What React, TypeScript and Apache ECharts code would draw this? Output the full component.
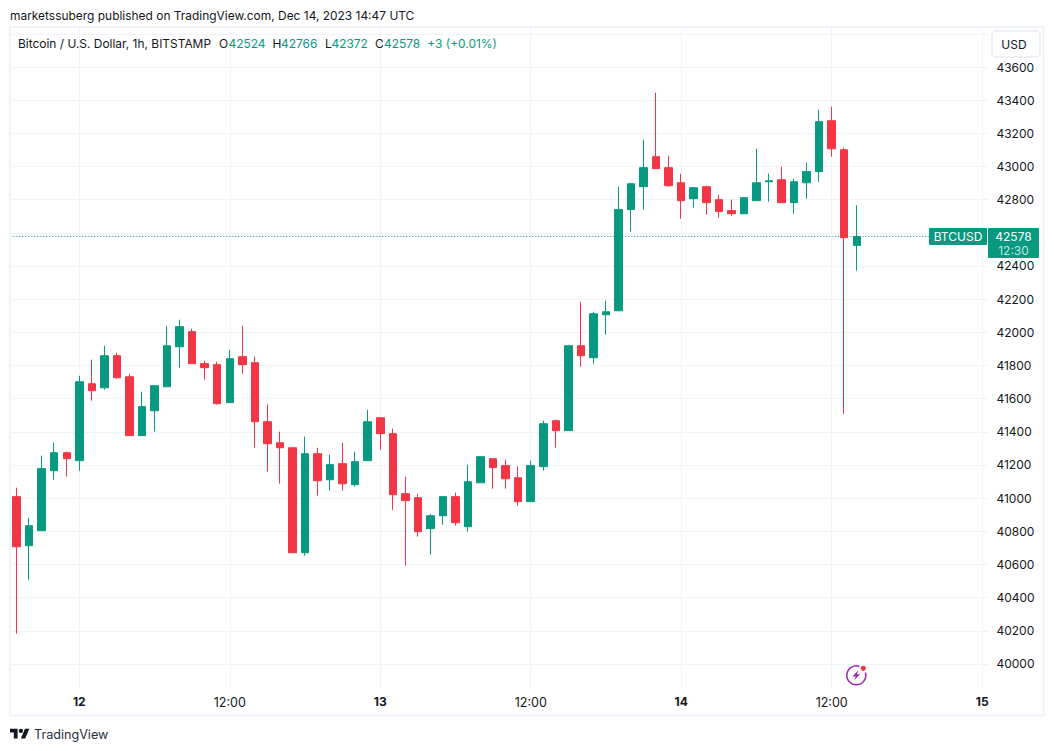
import React, { useEffect, useRef } from "react";
import * as echarts from "echarts";

// [open, close, low, high] per hourly candle, Dec 11 19:00 to Dec 14 14:00
const candles: number[][] = [
  [41009, 40707, 40183, 41063],
  [40713, 40834, 40508, 40882],
  [40804, 41178, 40804, 41256],
  [41166, 41274, 41111, 41334],
  [41274, 41238, 41130, 41280],
  [41226, 41702, 41166, 41738],
  [41690, 41648, 41588, 41835],
  [41666, 41859, 41654, 41919],
  [41859, 41726, 41720, 41877],
  [41732, 41377, 41377, 41751],
  [41377, 41552, 41377, 41642],
  [41527, 41678, 41401, 41678],
  [41672, 41919, 41672, 42040],
  [41913, 42034, 41787, 42076],
  [42004, 41811, 41811, 42022],
  [41811, 41787, 41714, 41829],
  [41805, 41570, 41564, 41823],
  [41576, 41841, 41576, 41895],
  [41853, 41805, 41751, 42040],
  [41817, 41461, 41304, 41853],
  [41461, 41328, 41160, 41564],
  [41334, 41304, 41087, 41401],
  [41304, 40671, 40671, 41304],
  [40671, 41268, 40653, 41371],
  [41268, 41105, 41015, 41304],
  [41111, 41202, 41045, 41262],
  [41208, 41087, 41045, 41334],
  [41081, 41220, 41069, 41280],
  [41226, 41461, 41226, 41533],
  [41485, 41389, 41292, 41485],
  [41389, 41021, 40930, 41419],
  [41027, 40985, 40593, 41129],
  [41003, 40798, 40768, 41027],
  [40816, 40894, 40659, 40906],
  [40894, 41009, 40840, 41009],
  [41009, 40852, 40834, 41033],
  [40828, 41099, 40798, 41202],
  [41093, 41250, 41093, 41250],
  [41238, 41184, 41057, 41238],
  [41196, 41117, 41057, 41232],
  [41123, 40979, 40955, 41190],
  [40979, 41196, 40979, 41226],
  [41190, 41449, 41166, 41467],
  [41467, 41407, 41304, 41473],
  [41407, 41919, 41407, 41925],
  [41919, 41859, 41793, 42185],
  [41847, 42112, 41811, 42124],
  [42106, 42124, 41986, 42191],
  [42130, 42740, 42130, 42878],
  [42740, 42896, 42607, 42902],
  [42878, 42993, 42740, 43162],
  [43059, 42987, 42987, 43445],
  [42993, 42884, 42878, 43065],
  [42902, 42794, 42685, 42957],
  [42806, 42872, 42752, 42872],
  [42878, 42782, 42709, 42884],
  [42800, 42728, 42691, 42830],
  [42734, 42715, 42703, 42800],
  [42715, 42812, 42715, 42812],
  [42794, 42902, 42794, 43107],
  [42908, 42914, 42788, 42957],
  [42920, 42782, 42782, 42999],
  [42782, 42908, 42715, 42926],
  [42902, 42969, 42806, 43023],
  [42969, 43270, 42908, 43343],
  [43276, 43107, 43059, 43361],
  [43101, 42571, 41509, 43113],
  [42524, 42578, 42372, 42766],
];

const blankBars = 10;
const categories: string[] = Array.from({ length: candles.length + blankBars }, (_, i) => String(i));
const timeLabels: Record<number, string> = {
  5: "12", 17: "12:00", 29: "13", 41: "12:00", 53: "14", 65: "12:00", 77: "15",
};
const gridPrices = [
  40000, 40200, 40400, 40600, 40800, 41000, 41200, 41400, 41600, 41800, 42000,
  42200, 42400, 42600, 42800, 43000, 43200, 43400, 43600, 43800,
];
const priceLabels = gridPrices.filter((p) => p !== 42600 && p !== 43800);
const lastPrice = 42578;
const publishedLine = "marketssuberg published on TradingView.com, Dec 14, 2023 14:47 UTC";
const symbolLine = "Bitcoin / U.S. Dollar, 1h, BITSTAMP";
const ohlc = [
  { key: "O", keyX: 219, val: "42524", valX: 228.5 },
  { key: "H", keyX: 272.5, val: "42766", valX: 281 },
  { key: "L", keyX: 325, val: "42372", valX: 331.5 },
  { key: "C", keyX: 375, val: "42578", valX: 384 },
];
const changeText = "+3 (+0.01%)";

const UP = "#089981";
const DOWN = "#F23645";
const GRIDC = "#f0f3fa";
const INK = "#131722";
const FONT = "Inter, sans-serif";

echarts.graphic.registerShape(
  "tvlogo",
  echarts.graphic.extendPath("M14 22H7V11H0V4h14v18zM28 22h-8l7.5-18h8L28 22zM24 8a4 4 0 1 1-8 0a4 4 0 1 1 8 0z", {}) as any
);

const txt = (x: number, y: number, text: string, fill = INK, size = 11.95, extra: any = {}) => ({
  type: "text",
  x,
  y,
  z: 20,
  silent: true,
  style: { text, fill, font: `${extra.weight || "normal"} ${size}px ${FONT}`, textVerticalAlign: "middle", textAlign: extra.align || "left" },
});

export default function App() {
  const ref = useRef<HTMLDivElement>(null);
  useEffect(() => {
    document.body.style.margin = "0";
    const chart = echarts.init(ref.current!, undefined, { renderer: "svg", width: 1054, height: 751 });
    chart.setOption({
      animation: false,
      backgroundColor: "#ffffff",
      grid: { left: 10.33, top: 27.7, width: 978.1, height: 660, containLabel: false },
      xAxis: {
        type: "category",
        data: categories,
        boundaryGap: true,
        axisLine: { show: false },
        axisTick: { show: false, alignWithLabel: true },
        splitLine: {
          show: true,
          alignWithLabel: true,
          interval: (i: number) => timeLabels[i] !== undefined,
          lineStyle: { color: GRIDC, width: 1 },
        },
        axisLabel: {
          interval: (i: number) => timeLabels[i] !== undefined,
          margin: 8,
          hideOverlap: false,
          formatter: (_: string, i: number) => {
            const s = timeLabels[i] || "";
            return s.includes(":") ? `{t|${s}}` : `{d|${s}}`;
          },
          rich: {
            t: { fontFamily: FONT, fontSize: 12.5, color: INK },
            d: { fontFamily: FONT, fontSize: 12, fontWeight: "bold", color: INK },
          },
        },
      },
      yAxis: {
        type: "value",
        position: "right",
        scale: true,
        min: 39857,
        max: 43837,
        axisLine: { show: false },
        axisTick: { show: false, customValues: gridPrices },
        splitLine: { show: true, lineStyle: { color: GRIDC, width: 1 } },
        axisLabel: {
          customValues: priceLabels,
          margin: 8,
          fontFamily: FONT,
          fontSize: 12,
          color: INK,
          formatter: (v: number) => String(v),
        },
      },
      series: [
        {
          type: "candlestick",
          data: candles,
          barWidth: 8,
          itemStyle: { color: UP, color0: DOWN, borderColor: UP, borderColor0: DOWN, borderWidth: 1 },
          markLine: {
            silent: true,
            symbol: "none",
            label: { show: false },
            z: 1,
            lineStyle: { color: UP, type: [1, 2], width: 1, opacity: 1 },
            data: [{ yAxis: lastPrice }],
          },
        },
      ],
    });
    const py = chart.convertToPixel({ yAxisIndex: 0 }, lastPrice) as number;
    chart.setOption({
      graphic: [
        { type: "rect", z: 5, silent: true, shape: { x: 10, y: 27, width: 1033.5, height: 688.5 }, style: { fill: "none", stroke: GRIDC, lineWidth: 2 } },
        txt(10, 15.5, publishedLine),
        txt(18, 43, symbolLine),
        ...ohlc.flatMap((o) => [txt(o.keyX, 43, o.key), txt(o.valX, 43, o.val, UP)]),
        txt(427.3, 43, changeText, UP),
        { type: "rect", z: 19, silent: true, shape: { x: 992, y: 31, width: 48, height: 26, r: 4 }, style: { fill: "#fff", stroke: "#e8ebf2", lineWidth: 1.5 } },
        txt(1014, 44, "USD", INK, 12, { align: "center" }),
        { type: "rect", z: 19, silent: true, shape: { x: 929, y: py - 8.5, width: 58, height: 17, r: 1 }, style: { fill: UP } },
        txt(958, py + 0.5, "BTCUSD", "#ffffff", 12, { align: "center" }),
        { type: "rect", z: 19, silent: true, shape: { x: 988, y: py - 8.5, width: 51, height: 30, r: 1 }, style: { fill: UP } },
        txt(1013.5, py + 0.5, String(lastPrice), "#ffffff", 12, { align: "center" }),
        txt(1013.5, py + 14, "12:30", "rgba(255,255,255,0.75)", 12, { align: "center" }),
        { type: "tvlogo", x: 10, y: 726.5, scaleX: 0.544, scaleY: 0.544, z: 20, silent: true, style: { fill: "#131722" } },
        txt(34, 734.5, "TradingView", "#2a2e39", 12.6),
        { type: "arc", z: 20, silent: true, shape: { cx: 856.3, cy: 675.3, r: 9.5, startAngle: -0.3, endAngle: -1.25, clockwise: true }, style: { stroke: "#9C27B0", fill: "none", lineWidth: 1.5 } },
        { type: "polygon", z: 20, silent: true, shape: { points: [[858.5, 670], [852.5, 676.5], [855.8, 676.5], [854, 680.5], [860, 674.2], [856.8, 674.2]] }, style: { fill: "#9C27B0" } },
        { type: "circle", z: 21, silent: true, shape: { cx: 863.3, cy: 668.3, r: 2.6 }, style: { fill: "#F23645" } },
      ],
    });
    return () => chart.dispose();
  }, []);
  return <div ref={ref} style={{ position: "absolute", left: 0, top: 0, width: 1054, height: 751 }} />;
}
